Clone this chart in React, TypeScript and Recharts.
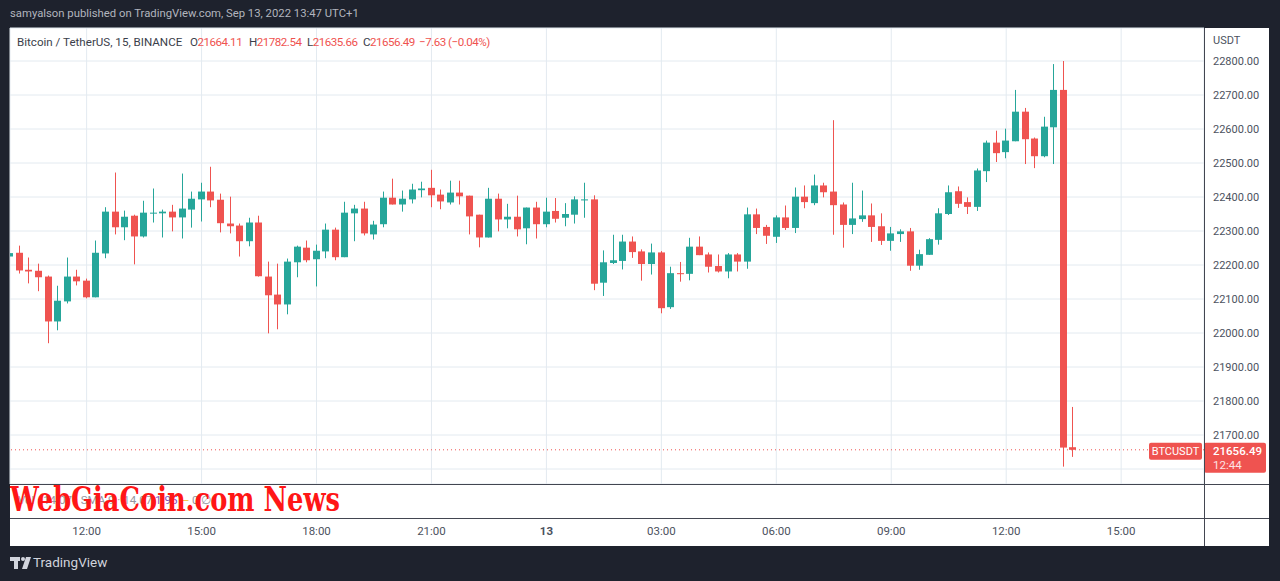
import React from "react";
import { ComposedChart, Bar, XAxis, YAxis, CartesianGrid, ReferenceLine } from "recharts";

// 15m BTC/USDT candles, Sep 12 10:00 -> Sep 13 13:45
const OPEN = [
  22225, 22236, 22186, 22183, 22166, 22034, 22093, 22166, 22154, 22105, 22234, 22357, 22311, 22345,
  22284, 22352, 22352, 22357, 22340, 22363, 22393, 22416, 22392, 22322, 22316, 22270, 22325, 22166,
  22113, 22084, 22208, 22251, 22217, 22240, 22304, 22223, 22352, 22366, 22290, 22320, 22398, 22378,
  22393, 22420, 22427, 22407, 22384, 22413, 22404, 22348, 22281, 22395, 22334, 22342, 22308, 22369,
  22320, 22359, 22339, 22348, 22390, 22393, 22148, 22206, 22212, 22269, 22240, 22203, 22237, 22076,
  22176, 22174, 22254, 22231, 22197, 22181, 22231, 22210, 22349, 22312, 22283, 22340, 22309, 22401,
  22382, 22434, 22416, 22378, 22318, 22335, 22346, 22314, 22271, 22291, 22299, 22198, 22230, 22274,
  22350, 22417, 22385, 22371, 22476, 22560, 22532, 22564, 22651, 22572, 22520, 22605, 22715, 21664.11,
];
const HIGH = [
  22257, 22257, 22222, 22204, 22169, 22139, 22222, 22186, 22160, 22272, 22370, 22472, 22360, 22348,
  22389, 22425, 22363, 22377, 22469, 22416, 22442, 22489, 22410, 22401, 22322, 22339, 22345, 22210,
  22204, 22219, 22257, 22272, 22260, 22322, 22310, 22386, 22377, 22386, 22330, 22416, 22454, 22419,
  22439, 22445, 22480, 22422, 22448, 22448, 22404, 22348, 22427, 22410, 22380, 22404, 22369, 22386,
  22398, 22397, 22382, 22402, 22442, 22405, 22243, 22289, 22289, 22284, 22246, 22263, 22241, 22195,
  22209, 22280, 22284, 22237, 22231, 22235, 22235, 22369, 22366, 22318, 22346, 22375, 22428, 22434,
  22466, 22442, 22626, 22384, 22442, 22419, 22381, 22352, 22312, 22305, 22309, 22245, 22279, 22367,
  22434, 22431, 22399, 22484, 22566, 22595, 22601, 22715, 22662, 22575, 22636, 22791, 22800, 21782.54,
];
const LOW = [
  22191, 22175, 22146, 22123, 21970, 22008, 22087, 22140, 22102, 22105, 22220, 22290, 22273, 22202,
  22281, 22325, 22281, 22299, 22278, 22310, 22328, 22370, 22296, 22293, 22225, 22255, 22166, 21999,
  22011, 22055, 22164, 22208, 22137, 22220, 22214, 22223, 22270, 22287, 22275, 22311, 22378, 22357,
  22381, 22399, 22370, 22364, 22378, 22378, 22290, 22252, 22281, 22299, 22308, 22284, 22261, 22278,
  22311, 22325, 22314, 22322, 22339, 22126, 22109, 22203, 22187, 22221, 22154, 22172, 22058, 22071,
  22151, 22155, 22229, 22178, 22178, 22161, 22181, 22189, 22291, 22262, 22265, 22303, 22294, 22367,
  22376, 22399, 22289, 22251, 22291, 22327, 22268, 22259, 22242, 22268, 22183, 22186, 22230, 22260,
  22347, 22368, 22350, 22359, 22444, 22503, 22514, 22564, 22497, 22485, 22517, 22497, 21607, 21635.66,
];
const CLOSE = [
  22235, 22184, 22181, 22164, 22034, 22095, 22166, 22152, 22105, 22236, 22357, 22311, 22342, 22284,
  22354, 22354, 22357, 22340, 22366, 22395, 22416, 22390, 22323, 22314, 22270, 22325, 22167, 22111,
  22084, 22210, 22254, 22214, 22242, 22304, 22223, 22354, 22366, 22293, 22319, 22398, 22378, 22395,
  22422, 22425, 22405, 22387, 22413, 22402, 22343, 22281, 22395, 22334, 22342, 22305, 22369, 22320,
  22357, 22336, 22350, 22393, 22393, 22145, 22208, 22214, 22269, 22238, 22203, 22237, 22073, 22176,
  22173, 22254, 22229, 22195, 22181, 22231, 22210, 22349, 22309, 22286, 22340, 22309, 22401, 22385,
  22434, 22414, 22376, 22318, 22337, 22346, 22312, 22271, 22293, 22299, 22198, 22232, 22276, 22352,
  22414, 22380, 22371, 22478, 22560, 22529, 22566, 22651, 22570, 22520, 22607, 22715, 21663, 21656.49,
];

const TICK_IDX = [8, 20, 32, 44, 56, 68, 80, 92, 104, 116];
const TICK_LABELS = ["12:00", "15:00", "18:00", "21:00", "13", "03:00", "06:00", "09:00", "12:00", "15:00"];
const PRICE_TICKS = [21600, 21700, 21800, 21900, 22000, 22100, 22200, 22300, 22400, 22500, 22600, 22700, 22800];
const LAST_PRICE = 21656.49;
const OHLC_LEGEND = [
  { k: "O", v: "21664.11", x: 190 },
  { k: "H", v: "21782.54", x: 249 },
  { k: "L", v: "21635.66", x: 307 },
  { k: "C", v: "21656.49", x: 363 },
  { k: "", v: "−7.63 (−0.04%)", x: 419 },
];

const TEAL = "#26a69a";
const RED = "#ef5350";
const FONT = "Roboto, 'Open Sans', sans-serif";
const TEXT = "#3a3e4a";

const data = OPEN.map((o, i) => ({
  i,
  o,
  h: HIGH[i],
  l: LOW[i],
  c: CLOSE[i],
  range: [LOW[i], HIGH[i]],
}));

const Candle = (props: any) => {
  const { x, y, width, height, payload } = props;
  if (!payload || height == null) return null;
  const { o, h, l, c } = payload;
  const top = Math.min(y, y + height);
  const k = Math.abs(height) / (h - l || 1);
  const yOf = (v: number) => top + (h - v) * k;
  const color = c >= o ? TEAL : RED;
  const cx = x + width / 2;
  const bt = yOf(Math.max(o, c));
  const bb = yOf(Math.min(o, c));
  return (
    <g>
      <rect x={Math.round(cx - 0.5)} y={top} width={1} height={Math.max(1, Math.abs(height))} fill={color} />
      <rect x={Math.round(cx - 3.5)} y={bt} width={7} height={Math.max(1, bb - bt)} fill={color} />
    </g>
  );
};

const TimeTick = (props: any) => {
  const { x, payload } = props;
  const label = TICK_LABELS[TICK_IDX.indexOf(payload.value)];
  return (
    <text x={x} y={535} textAnchor="middle" fontSize={11.5} fill="#4c525e" fontFamily={FONT}
      fontWeight={label === "13" ? 700 : 400}>
      {label}
    </text>
  );
};

const PriceTick = (props: any) => {
  const { y, payload } = props;
  // the last-price tag hides the upper part of the 21600 label
  const hidden = payload.value === 21600;
  return (
    <g>
      {hidden && (
        <clipPath id="under-tag">
          <rect x={1204} y={473} width={70} height={20} />
        </clipPath>
      )}
      <text x={1213} y={y + 4} fontSize={11} fill="#4c525e" fontFamily={FONT}
        clipPath={hidden ? "url(#under-tag)" : undefined}>
        {payload.value.toFixed(2)}
      </text>
    </g>
  );
};

const PriceTag = (props: any) => {
  const vb = props.viewBox || {};
  const y = vb.y;
  const right = vb.x + vb.width;
  return (
    <g fontFamily={FONT}>
      <rect x={right - 55} y={y - 7} width={53} height={17} rx={2} fill={RED} />
      <text x={right - 28.5} y={y + 5.5} textAnchor="middle" fontSize={11} fill="#fff">BTCUSDT</text>
      <rect x={right} y={y - 7} width={62} height={30} rx={2} fill={RED} />
      <text x={right + 9} y={y + 5.5} fontSize={11.5} fontWeight={500} fill="#fff">{LAST_PRICE.toFixed(2)}</text>
      <text x={right + 9} y={y + 19} fontSize={11.5} fill="#fde4e4">12:44</text>
    </g>
  );
};

const App = () => (
  <div style={{ position: "absolute", left: 0, top: 0, width: 1280, height: 581, background: "#1e222d", overflow: "hidden", fontFamily: FONT }}>
    <div style={{ position: "absolute", left: 10, top: 7, fontSize: 11.3, color: "#b2b5be", whiteSpace: "nowrap" }}>
      samyalson published on TradingView.com, Sep 13, 2022 13:47 UTC+1
    </div>
    <div style={{ position: "absolute", left: 10, top: 28, width: 1259, height: 518, background: "#ffffff" }} />
    <div style={{ position: "absolute", left: 0, top: 0 }}>
      <ComposedChart width={1280} height={581} data={data} margin={{ top: 28, left: 10, right: 12, bottom: 62 }}>
        <CartesianGrid stroke="#e3eaf0" strokeWidth={1} />
        <XAxis dataKey="i" type="number" domain={[0, 124.65]} ticks={TICK_IDX} allowDataOverflow
          height={35} axisLine={false} tickLine={false} tick={<TimeTick />} interval={0} />
        <YAxis orientation="right" type="number" domain={[21555.9, 22897.1]} ticks={PRICE_TICKS}
          allowDataOverflow width={64} axisLine={false} tickLine={false} tick={<PriceTick />} interval={0} />
        <Bar dataKey="range" barSize={7} shape={<Candle />} isAnimationActive={false} />
        <ReferenceLine y={LAST_PRICE} stroke={RED} strokeDasharray="1 3" label={<PriceTag />} />
      </ComposedChart>
    </div>
    <div style={{ position: "absolute", left: 1213, top: 34, fontSize: 11, color: "#4c525e" }}>USDT</div>
    <div style={{ position: "absolute", left: 10, top: 484, width: 1259, height: 1, background: "#434651" }} />
    <div style={{ position: "absolute", left: 10, top: 518, width: 1259, height: 1, background: "#434651" }} />
    <div style={{ position: "absolute", left: 1204, top: 28, width: 1, height: 518, background: "#434651" }} />
    <div style={{ position: "absolute", left: 17, top: 35, fontSize: 11.6, whiteSpace: "nowrap", color: TEXT }}>
      Bitcoin / TetherUS, 15, BINANCE
    </div>
    {OHLC_LEGEND.map((g) => (
      <div key={g.x} style={{ position: "absolute", left: g.x, top: 35, fontSize: 11.6, letterSpacing: -0.5, whiteSpace: "nowrap", color: RED }}>
        <span style={{ color: TEXT }}>{g.k}</span>
        {g.v}
      </div>
    ))}
    <div style={{ position: "absolute", left: 18, top: 493, fontSize: 11.5, whiteSpace: "nowrap", color: "#9598a1" }}>
      Vol · 14.07 · SMA 9 · 14.07 <span style={{ color: "#7e57c2" }}>1.95</span> <span style={{ color: "#f5c43b" }}>—</span> 0 ∅
    </div>
    <svg style={{ position: "absolute", left: 0, top: 0 }} width={1280} height={581}>
      <text x={10} y={511} fontSize={33} fontWeight={700} fontFamily="'DejaVu Serif', serif" fill="#ff1616"
        textLength={330} lengthAdjust="spacingAndGlyphs">WebGiaCoin.com News</text>
      <g fill="#d1d4dc">
        <rect x={10} y={557} width={10} height={4} />
        <rect x={14} y={557} width={4} height={12} />
        <circle cx={23} cy={559} r={2} />
        <path d="M26 557 L31 557 L27 569 L22 569 Z" />
      </g>
    </svg>
    <div style={{ position: "absolute", left: 33, top: 554, fontSize: 13.5, color: "#d1d4dc" }}>TradingView</div>
  </div>
);

export default App;
